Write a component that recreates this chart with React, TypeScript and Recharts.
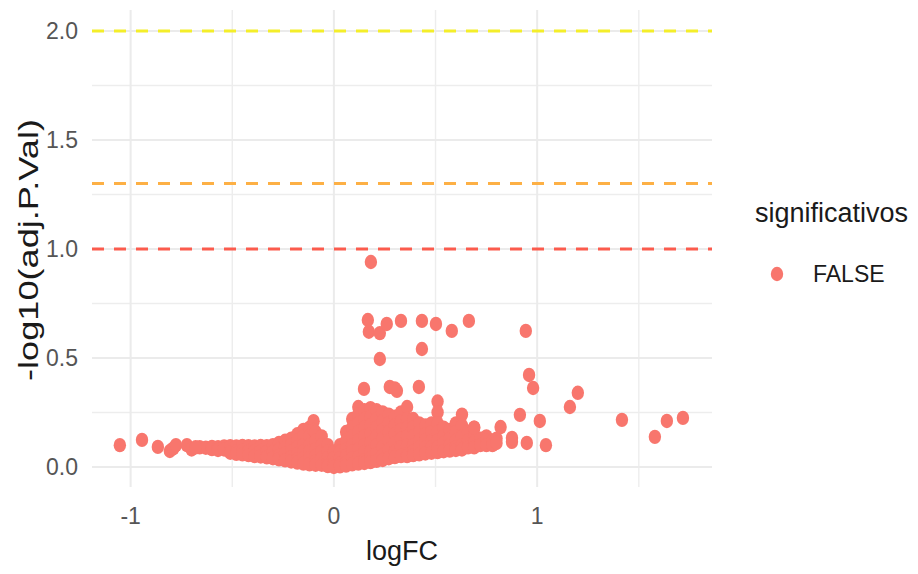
import React from "react";
import {
  ScatterChart,
  Scatter,
  XAxis,
  YAxis,
  CartesianGrid,
  ReferenceLine,
  Legend,
  Label,
} from "recharts";

// axis ticks
const xTicks = [-1, 0, 1];
const xMinor = [-0.5, 0.5, 1.5];
const yTicks = [0, 0.5, 1, 1.5, 2];
const yMinor = [0.25, 0.75, 1.25, 1.75];

// dashed thresholds on -log10(adj.P.Val)
const thresholds = [2, 1.3, 1];
const thresholdColors = ["#f4ee2a", "#fdb045", "#fb5b4d"];

// dense cloud of genes: one logFC column with its -log10 values
const cloudX = [
  -0.66, -0.63, -0.6, -0.57, -0.54, -0.51, -0.48, -0.45, -0.42, -0.39, -0.36, -0.33, -0.3, -0.27,
  -0.24, -0.21, -0.18, -0.15, -0.12, -0.1, -0.09, -0.06, -0.03, 0, 0.03, 0.06, 0.09, 0.12, 0.15,
  0.18, 0.21, 0.24, 0.27, 0.3, 0.33, 0.36, 0.39, 0.42, 0.45, 0.48, 0.51, 0.54, 0.57, 0.6, 0.63,
  0.66, 0.69, 0.72, 0.75, 0.78, 0.8,
];
const cloudY = [
  [0.09],
  [0.088],
  [0.092, 0.082],
  [0.09, 0.078],
  [0.094, 0.08],
  [0.095, 0.075, 0.065],
  [0.094, 0.072, 0.06],
  [0.096, 0.075, 0.058],
  [0.095, 0.07, 0.054],
  [0.094, 0.072, 0.05],
  [0.096, 0.07, 0.048],
  [0.095, 0.068, 0.044],
  [0.1, 0.07, 0.04],
  [0.11, 0.08, 0.05, 0.035],
  [0.12, 0.09, 0.06, 0.03],
  [0.13, 0.1, 0.07, 0.045, 0.025],
  [0.15, 0.12, 0.09, 0.06, 0.035, 0.02],
  [0.17, 0.14, 0.1, 0.07, 0.04, 0.015],
  [0.18, 0.14, 0.1, 0.07, 0.04, 0.012],
  [0.21, 0.17],
  [0.16, 0.12, 0.08, 0.05, 0.025, 0.01],
  [0.14, 0.1, 0.07, 0.04, 0.01],
  [0.1, 0.07, 0.04, 0.015, 0.004],
  [0.07, 0.04, 0.015, 0.0],
  [0.1, 0.07, 0.04, 0.015, 0.003],
  [0.16, 0.12, 0.08, 0.05, 0.02, 0.006],
  [0.22, 0.18, 0.14, 0.1, 0.07, 0.04, 0.012],
  [0.275, 0.24, 0.2, 0.16, 0.12, 0.08, 0.045, 0.015],
  [0.26, 0.22, 0.18, 0.14, 0.1, 0.065, 0.03, 0.018],
  [0.27, 0.23, 0.19, 0.15, 0.11, 0.07, 0.04, 0.022],
  [0.26, 0.22, 0.18, 0.14, 0.1, 0.06, 0.028],
  [0.25, 0.21, 0.17, 0.13, 0.09, 0.055, 0.032],
  [0.24, 0.2, 0.16, 0.12, 0.08, 0.04],
  [0.23, 0.19, 0.15, 0.11, 0.07, 0.045],
  [0.25, 0.21, 0.17, 0.13, 0.09, 0.05],
  [0.275, 0.22, 0.18, 0.14, 0.1, 0.06, 0.05],
  [0.22, 0.18, 0.14, 0.1, 0.07, 0.054],
  [0.2, 0.16, 0.12, 0.09, 0.058],
  [0.19, 0.15, 0.12, 0.09, 0.062],
  [0.2, 0.16, 0.12, 0.09, 0.065],
  [0.3, 0.25, 0.2, 0.16, 0.12, 0.09, 0.068],
  [0.18, 0.14, 0.11, 0.072],
  [0.17, 0.13, 0.1, 0.075],
  [0.2, 0.16, 0.12, 0.09, 0.078],
  [0.24, 0.19, 0.14, 0.1, 0.08],
  [0.16, 0.12, 0.09],
  [0.18, 0.14, 0.11, 0.09],
  [0.13, 0.1],
  [0.14, 0.12, 0.1],
  [0.12, 0.1],
  [0.13, 0.11],
];

// isolated genes
const outlierX = [
  -1.053, -0.944, -0.866, -0.807, -0.79, -0.777, -0.723, -0.7, -0.68,
  0.182, 0.167, 0.172, 0.226, 0.26, 0.33, 0.433, 0.502, 0.58, 0.664, 0.944,
  0.433, 0.226, 0.148, 0.275, 0.31, 0.3, 0.418, 0.96, 0.98, 0.915, 1.013,
  0.949, 1.043, 0.876, 0.876, 0.82, 1.161, 1.2, 1.417, 1.579, 1.638, 1.717, 0.69,
];
const outlierY = [
  0.1, 0.124, 0.092, 0.073, 0.085, 0.1, 0.1, 0.08, 0.09,
  0.94, 0.674, 0.62, 0.614, 0.656, 0.67, 0.67, 0.656, 0.624, 0.67, 0.624,
  0.541, 0.495, 0.358, 0.367, 0.349, 0.36, 0.367, 0.422, 0.362, 0.239, 0.211,
  0.11, 0.1, 0.115, 0.133, 0.183, 0.275, 0.34, 0.216, 0.138, 0.211, 0.225, 0.18,
];

const points = [
  ...cloudX.flatMap((x, i) => cloudY[i].map((y) => ({ x, y }))),
  ...outlierX.map((x, i) => ({ x, y: outlierY[i] })),
];

const POINT = "#F8766D";
const FONT = "'Liberation Sans', Arial, sans-serif";

const XTick = (props: any) => (
  <text x={props.x} y={props.y} dy="0.71em" textAnchor="middle" fontSize={23} fill="#555" fontFamily={FONT}>
    {props.payload.value}
  </text>
);

const YTick = (props: any) => (
  <text x={props.x} y={props.y} dy="0.36em" textAnchor="end" fontSize={23} fill="#555" fontFamily={FONT}>
    {Number(props.payload.value).toFixed(1)}
  </text>
);

const YTitle = () => (
  <text
    x={28}
    y={250}
    transform="rotate(-90, 28, 250)"
    textAnchor="middle"
    dominantBaseline="central"
    fontSize={28}
    fill="#1a1a1a"
    fontFamily={FONT}
    textLength={262}
    lengthAdjust="spacingAndGlyphs"
  >
    -log10(adj.P.Val)
  </text>
);

const LegendBox = () => (
  <div style={{ position: "relative", width: 180, height: 110, fontFamily: FONT }}>
    <div style={{ position: "absolute", left: 15, top: 8, fontSize: 27, color: "#1a1a1a", lineHeight: "30px" }}>
      significativos
    </div>
    <svg style={{ position: "absolute", left: 0, top: 0 }} width={60} height={110}>
      <ellipse cx={37} cy={84} rx={6.2} ry={7.2} fill={POINT} />
    </svg>
    <div style={{ position: "absolute", left: 73, top: 72, fontSize: 23, color: "#1a1a1a", lineHeight: "24px" }}>
      FALSE
    </div>
  </div>
);

export default function App() {
  return (
    <div style={{ position: "absolute", left: 0, top: 0, width: 918, height: 574, background: "#fff" }}>
      <ScatterChart width={918} height={574} margin={{ top: 10, right: 206, bottom: 0, left: 0 }}>
        <CartesianGrid stroke="#ededed" strokeWidth={1.4} horizontalValues={yMinor} verticalValues={xMinor} />
        <CartesianGrid stroke="#ebebeb" strokeWidth={2} horizontalValues={yTicks} verticalValues={xTicks} />
        <XAxis
          type="number"
          dataKey="x"
          domain={[-1.19, 1.86]}
          ticks={xTicks}
          allowDataOverflow
          height={87}
          axisLine={false}
          tickLine={false}
          tickSize={0}
          tickMargin={21}
          tick={<XTick />}
        >
          <Label value="logFC" position="insideBottom" offset={14} fontSize={27} fill="#1a1a1a" fontFamily={FONT} />
        </XAxis>
        <YAxis
          type="number"
          dataKey="y"
          domain={[-0.092, 2.096]}
          ticks={yTicks}
          allowDataOverflow
          width={92}
          axisLine={false}
          tickLine={false}
          tickSize={0}
          tickMargin={14}
          tick={<YTick />}
        >
          <Label content={<YTitle />} />
        </YAxis>
        {thresholds.map((t, i) => (
          <ReferenceLine key={t} y={t} stroke={thresholdColors[i]} strokeWidth={3} strokeDasharray="12 10" />
        ))}
        <Scatter
          name="FALSE"
          data={points}
          fill={POINT}
          isAnimationActive={false}
          shape={(p: any) => <ellipse cx={p.cx} cy={p.cy} rx={6.2} ry={7.2} fill={POINT} />}
        />
        <Legend
          layout="horizontal"
          verticalAlign="middle"
          align="center"
          content={<LegendBox />}
          wrapperStyle={{ left: 740, top: 190, width: 180, height: 110 }}
        />
      </ScatterChart>
    </div>
  );
}
